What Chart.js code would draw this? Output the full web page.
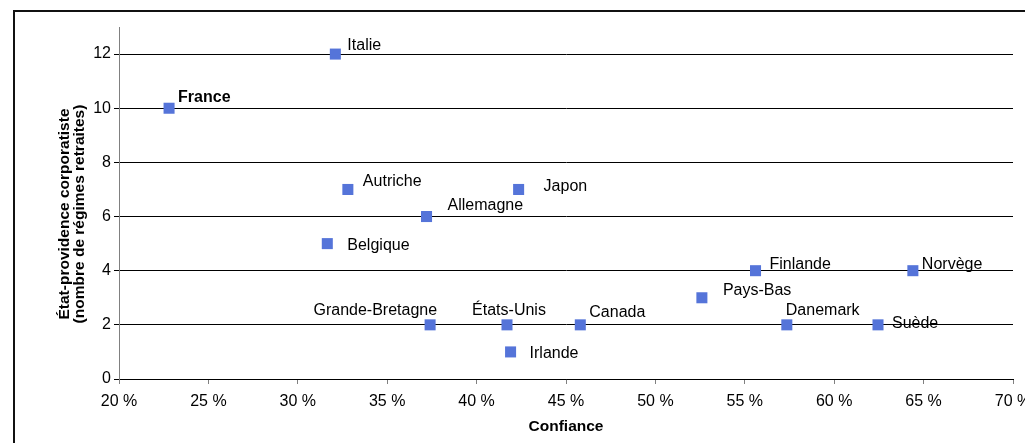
<!DOCTYPE html>
<html>
<head>
<meta charset="utf-8">
<script src="https://cdn.jsdelivr.net/npm/chart.js@4/dist/chart.umd.min.js"></script>
<style>
    html, body { margin: 0; padding: 0; background: #fff; overflow: hidden; }
    #frame {
        position: absolute; left: 13px; top: 10px;
        width: 1200px; height: 600px;
        border-left: 2px solid #111; border-top: 2px solid #111;
    }
    #wrap { position: absolute; left: 0; top: 0; width: 1025px; height: 443px; }
</style>
</head>
<body>
<div id="frame"></div>
<div id="wrap"><canvas id="scatterChart" width="1025" height="443"></canvas></div>
<script>
// données
const countries = ['France', 'Italie', 'Autriche', 'Japon', 'Allemagne', 'Belgique', 'Finlande', 'Norvège',
    'Pays-Bas', 'Grande-Bretagne', 'États-Unis', 'Canada', 'Danemark', 'Suède', 'Irlande'];
const confiance = [22.8, 32.1, 32.8, 42.35, 37.2, 31.65, 55.6, 64.4, 52.6, 37.4, 41.7, 45.8, 57.35, 62.45, 41.9];
const regimes = [10, 12, 7, 7, 6, 5, 4, 4, 3, 2, 2, 2, 2, 2, 1];

const xMin = 20, xMax = 70, xStep = 5;
const yMin = 0, yMax = 13, yStep = 2;
const xTitle = 'Confiance';
const yTitle = ['État-providence corporatiste', '(nombre de régimes retraites)'];
const boldLabels = ['France'];

const FONT = "'Liberation Sans', Arial, sans-serif";

// placement des étiquettes par rapport au point : [dx, dy, align]
const labelPlacement = {
    'France': [9, -11, 'left'],
    'Italie': [12, -8, 'left'],
    'Autriche': [15, -8, 'left'],
    'Japon': [25, -3, 'left'],
    'Allemagne': [21, -11, 'left'],
    'Belgique': [20, 2, 'left'],
    'Finlande': [14, -6, 'left'],
    'Norvège': [9, -6, 'left'],
    'Pays-Bas': [21, -7, 'left'],
    'Grande-Bretagne': [7, -14, 'right'],
    'États-Unis': [2, -14, 'center'],
    'Canada': [9, -12, 'left'],
    'Danemark': [-1, -14, 'left'],
    'Suède': [14, -1, 'left'],
    'Irlande': [19, 2, 'left']
};

const pointLabels = {
    id: 'pointLabels',
    afterDatasetsDraw(chart) {
        const ctx = chart.ctx;
        const meta = chart.getDatasetMeta(0);
        ctx.save();
        ctx.fillStyle = '#000';
        ctx.textBaseline = 'middle';
        meta.data.forEach((pt, i) => {
            const name = countries[i];
            const p = labelPlacement[name] || [10, 0, 'left'];
            ctx.font = (boldLabels.includes(name) ? 'bold ' : '') + '16px ' + FONT;
            ctx.textAlign = p[2];
            ctx.fillText(name, pt.x + p[0], pt.y + p[1]);
        });
        ctx.restore();
    }
};

const yAxisTitle = {
    id: 'yAxisTitle',
    afterDraw(chart) {
        const ctx = chart.ctx;
        ctx.save();
        ctx.translate(65, 214);
        ctx.rotate(-Math.PI / 2);
        ctx.font = 'bold 15.5px ' + FONT;
        ctx.fillStyle = '#000';
        ctx.textAlign = 'center';
        ctx.textBaseline = 'middle';
        yTitle.forEach((line, i) => ctx.fillText(line, 0, i * 15));
        ctx.restore();
    }
};

document.addEventListener('DOMContentLoaded', function() {
    new Chart(document.getElementById('scatterChart'), {
        type: 'scatter',
        data: {
            datasets: [{
                data: confiance.map((x, i) => ({ x: x, y: regimes[i] })),
                backgroundColor: '#5574d9',
                borderWidth: 0,
                pointStyle: 'rect',
                pointRadius: 7.8,
                pointHoverRadius: 7.8
            }]
        },
        options: {
            responsive: false,
            animation: false,
            events: [],
            layout: { padding: { left: 0, right: 12, top: 27, bottom: 0 } },
            plugins: { legend: { display: false }, tooltip: { enabled: false } },
            scales: {
                x: {
                    type: 'linear',
                    min: xMin,
                    max: xMax,
                    ticks: {
                        stepSize: xStep,
                        padding: 8,
                        color: '#000',
                        font: { family: FONT, size: 16 },
                        callback: v => v + ' %'
                    },
                    grid: { drawOnChartArea: false, drawTicks: true, tickLength: 5, color: '#808080' },
                    border: { color: '#000', width: 1 },
                    title: {
                        display: true,
                        text: xTitle,
                        color: '#000',
                        font: { family: FONT, size: 15.5, weight: 'bold' },
                        padding: { top: 0, bottom: 7 }
                    },
                    afterFit: s => { s.height = 64; s.paddingLeft = 0; s.paddingRight = 0; }
                },
                y: {
                    min: yMin,
                    max: yMax,
                    ticks: {
                        stepSize: yStep,
                        includeBounds: false,
                        padding: 3,
                        color: '#000',
                        font: { family: FONT, size: 16 }
                    },
                    grid: { color: '#000', lineWidth: 1, tickLength: 5 },
                    border: { color: '#808080', width: 1 },
                    afterFit: s => { s.width = 119; }
                }
            }
        },
        plugins: [pointLabels, yAxisTitle]
    });
});
</script>
</body>
</html>
